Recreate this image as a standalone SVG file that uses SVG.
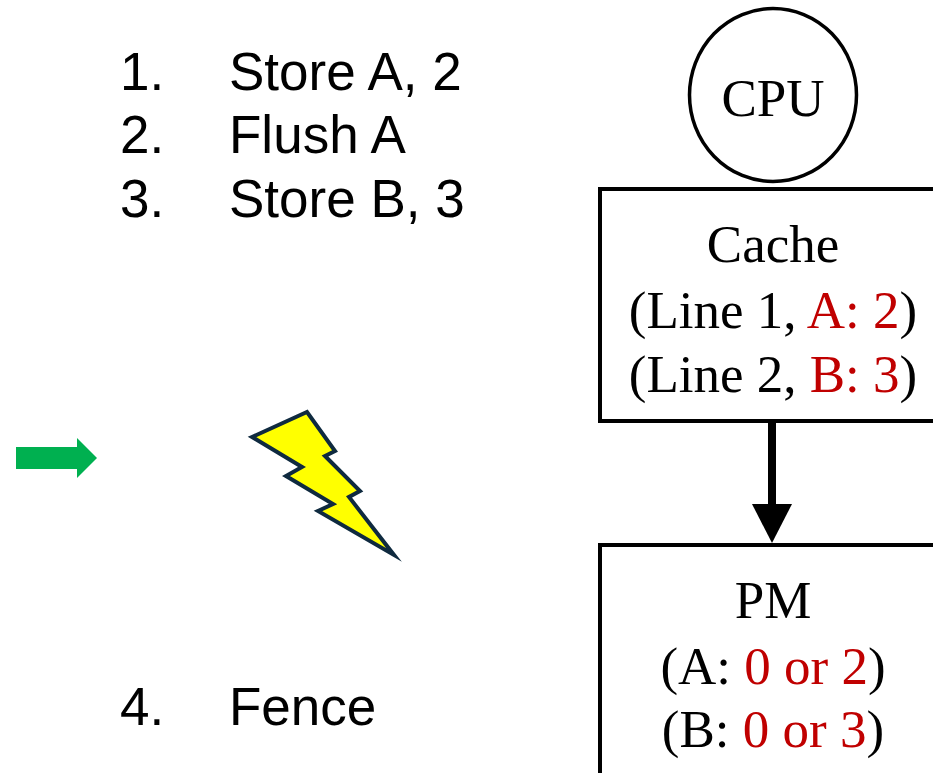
<svg xmlns="http://www.w3.org/2000/svg" width="933" height="773" viewBox="0 0 933 773">
<style>
.s{font-family:"Liberation Sans",Arial,sans-serif;font-size:53px;fill:#000}
.t{font-family:"Liberation Serif","Times New Roman",serif;font-size:53px;fill:#000;text-anchor:middle}
.r{fill:#c00000}
.b{fill:#fff;stroke:#000;stroke-width:4}
</style>
<rect width="933" height="773" fill="#fff"/>
<g id="steps">
<text class="s" x="120" y="90">1.</text><text class="s" x="229" y="90">Store A, 2</text>
<text class="s" x="120" y="153">2.</text><text class="s" x="229" y="153">Flush A</text>
<text class="s" x="120" y="217">3.</text><text class="s" x="229" y="217">Store B, 3</text>
<text class="s" x="120" y="725">4.</text><text class="s" x="229" y="725">Fence</text>
</g>
<g id="pointer"><polygon points="16,447 77,447 77,438 97,458 77,478 77,469 16,469" fill="#00b050"/></g>
<g id="bolt"><polygon points="252,437 307,412 335,451 325,456 360,491 349,497 394,555 318,511 333,504 286,476 302,467" fill="#ffff00" stroke="#0f2a3f" stroke-width="4" stroke-miterlimit="12"/></g>
<g id="cpu"><ellipse cx="773" cy="95" rx="83.5" ry="86.5" fill="#fff" stroke="#000" stroke-width="3.5"/><text class="t" x="773" y="116">CPU</text></g>
<g id="cache"><rect class="b" x="600" y="189" width="340" height="232"/>
<text class="t" x="773" y="262">Cache</text>
<text class="t" x="773" y="328">(Line 1, <tspan class="r">A: 2</tspan>)</text>
<text class="t" x="773" y="392">(Line 2, <tspan class="r">B: 3</tspan>)</text></g>
<g id="pm"><rect class="b" x="600" y="545" width="340" height="240"/>
<text class="t" x="773" y="618">PM</text>
<text class="t" x="773" y="684">(A: <tspan class="r">0 or 2</tspan>)</text>
<text class="t" x="773" y="747">(B: <tspan class="r">0 or 3</tspan>)</text></g>
<g id="connectors"><line x1="772" y1="421" x2="772" y2="506" stroke="#000" stroke-width="8"/><polygon points="752,504 792,504 772,543" fill="#000"/></g>
</svg>
